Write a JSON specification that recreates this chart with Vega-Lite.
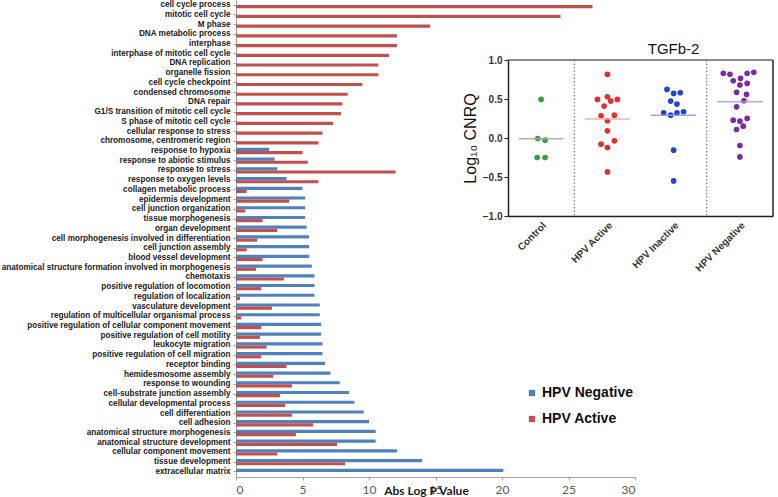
{
  "$schema": "https://vega.github.io/schema/vega-lite/v6.json",
  "width": 399,
  "height": 477,
  "autosize": {"type": "none"},
  "padding": {"left": 236, "top": 0, "right": 143, "bottom": 20},
  "background": "white",
  "config": {"view": {"stroke": null}},
  "layer": [
    {
      "data": {"values": [
        {"term": "cell cycle process", "HPV Negative": 0, "HPV Active": 26.8},
        {"term": "mitotic cell cycle", "HPV Negative": 0, "HPV Active": 24.4},
        {"term": "M phase", "HPV Negative": 0, "HPV Active": 14.6},
        {"term": "DNA metabolic process", "HPV Negative": 0, "HPV Active": 12.1},
        {"term": "interphase", "HPV Negative": 0, "HPV Active": 12.1},
        {"term": "interphase of mitotic cell cycle", "HPV Negative": 0, "HPV Active": 11.5},
        {"term": "DNA replication", "HPV Negative": 0, "HPV Active": 10.7},
        {"term": "organelle fission", "HPV Negative": 0, "HPV Active": 10.7},
        {"term": "cell cycle checkpoint", "HPV Negative": 0, "HPV Active": 9.5},
        {"term": "condensed chromosome", "HPV Negative": 0, "HPV Active": 8.4},
        {"term": "DNA repair", "HPV Negative": 0, "HPV Active": 8.0},
        {"term": "G1/S transition of mitotic cell cycle", "HPV Negative": 0, "HPV Active": 7.9},
        {"term": "S phase of mitotic cell cycle", "HPV Negative": 0, "HPV Active": 7.3},
        {"term": "cellular response to stress", "HPV Negative": 0, "HPV Active": 6.5},
        {"term": "chromosome, centromeric region", "HPV Negative": 0, "HPV Active": 6.2},
        {"term": "response to hypoxia", "HPV Negative": 2.5, "HPV Active": 5.0},
        {"term": "response to abiotic stimulus", "HPV Negative": 2.9, "HPV Active": 5.4},
        {"term": "response to stress", "HPV Negative": 3.1, "HPV Active": 12.0},
        {"term": "response to oxygen levels", "HPV Negative": 3.8, "HPV Active": 6.2},
        {"term": "collagen metabolic process", "HPV Negative": 5.0, "HPV Active": 0.8},
        {"term": "epidermis development", "HPV Negative": 5.2, "HPV Active": 4.0},
        {"term": "cell junction organization", "HPV Negative": 5.2, "HPV Active": 0.7},
        {"term": "tissue morphogenesis", "HPV Negative": 5.2, "HPV Active": 2.0},
        {"term": "organ development", "HPV Negative": 5.3, "HPV Active": 3.1},
        {"term": "cell morphogenesis involved in differentiation", "HPV Negative": 5.5, "HPV Active": 1.6},
        {"term": "cell junction assembly", "HPV Negative": 5.5, "HPV Active": 0.8},
        {"term": "blood vessel development", "HPV Negative": 5.5, "HPV Active": 2.0},
        {"term": "anatomical structure formation involved in morphogenesis", "HPV Negative": 5.7, "HPV Active": 1.5},
        {"term": "chemotaxis", "HPV Negative": 5.9, "HPV Active": 3.6},
        {"term": "positive regulation of locomotion", "HPV Negative": 5.9, "HPV Active": 1.9},
        {"term": "regulation of localization", "HPV Negative": 5.9, "HPV Active": 0.3},
        {"term": "vasculature development", "HPV Negative": 6.3, "HPV Active": 2.7},
        {"term": "regulation of multicellular organismal process", "HPV Negative": 6.3, "HPV Active": 0.4},
        {"term": "positive regulation of cellular component movement", "HPV Negative": 6.4, "HPV Active": 1.9},
        {"term": "positive regulation of cell motility", "HPV Negative": 6.4, "HPV Active": 1.8},
        {"term": "leukocyte migration", "HPV Negative": 6.5, "HPV Active": 2.3},
        {"term": "positive regulation of cell migration", "HPV Negative": 6.5, "HPV Active": 1.9},
        {"term": "receptor binding", "HPV Negative": 6.7, "HPV Active": 3.8},
        {"term": "hemidesmosome assembly", "HPV Negative": 7.1, "HPV Active": 2.8},
        {"term": "response to wounding", "HPV Negative": 7.8, "HPV Active": 4.2},
        {"term": "cell-substrate junction assembly", "HPV Negative": 8.5, "HPV Active": 3.3},
        {"term": "cellular developmental process", "HPV Negative": 8.9, "HPV Active": 3.7},
        {"term": "cell differentiation", "HPV Negative": 9.6, "HPV Active": 4.2},
        {"term": "cell adhesion", "HPV Negative": 10.0, "HPV Active": 5.8},
        {"term": "anatomical structure morphogenesis", "HPV Negative": 10.5, "HPV Active": 4.5},
        {"term": "anatomical structure development", "HPV Negative": 10.5, "HPV Active": 7.6},
        {"term": "cellular component movement", "HPV Negative": 12.1, "HPV Active": 3.1},
        {"term": "tissue development", "HPV Negative": 14.0, "HPV Active": 8.2},
        {"term": "extracellular matrix", "HPV Negative": 20.1, "HPV Active": 0}
      ]},
      "transform": [{"fold": ["HPV Negative", "HPV Active"], "as": ["series", "value"]}],
      "mark": {"type": "bar"},
      "encoding": {
        "y": {
          "field": "term", "type": "nominal", "sort": null,
          "scale": {"paddingInner": 0.35, "paddingOuter": 0.2},
          "axis": {"title": null, "labelFont": "Liberation Sans", "labelFontWeight": "bold", "labelFontSize": 8.2, "labelColor": "#1a1a1a", "domainColor": "#a0a0a0", "tickColor": "#a0a0a0", "tickSize": 3, "labelPadding": 3, "labelLimit": 300}
        },
        "yOffset": {"field": "series", "type": "nominal", "sort": ["HPV Negative", "HPV Active"]},
        "x": {
          "field": "value", "type": "quantitative",
          "scale": {"domain": [0, 30]},
          "axis": {"values": [0, 5, 10, 15, 20, 25, 30], "grid": false, "title": "Abs Log P Value", "titleFont": "Lato", "titleFontSize": 12, "titleFontWeight": "bold", "titleColor": "#1a1a1a", "titleX": 190, "titleY": 8, "titleAlign": "center", "titleBaseline": "top", "labelFont": "Lato", "labelFontSize": 12, "labelColor": "#595959", "domainColor": "#a0a0a0", "tickColor": "#a0a0a0", "tickSize": 3, "labelPadding": 4}
        },
        "color": {
          "field": "series", "type": "nominal",
          "scale": {"domain": ["HPV Negative", "HPV Active"], "range": ["#4f81bd", "#c0504d"]},
          "legend": {"title": null, "orient": "none", "legendX": 289, "legendY": 386, "symbolType": "square", "symbolSize": 40, "symbolStrokeWidth": 0, "labelFont": "Liberation Sans", "labelFontWeight": "bold", "labelFontSize": 14, "labelColor": "#111111", "rowPadding": 12, "labelOffset": 3, "padding": 0}
        }
      }
    },
    {
      "data": {"values": [
        {"group": "Control", "v": 0.495, "dx": 0},
        {"group": "Control", "v": -0.006, "dx": -0.1},
        {"group": "Control", "v": -0.028, "dx": 0.12},
        {"group": "Control", "v": -0.25, "dx": -0.12},
        {"group": "Control", "v": -0.25, "dx": 0.12},
        {"group": "HPV Active", "v": 0.816, "dx": 0},
        {"group": "HPV Active", "v": 0.495, "dx": -0.3},
        {"group": "HPV Active", "v": 0.529, "dx": 0},
        {"group": "HPV Active", "v": 0.473, "dx": 0.1},
        {"group": "HPV Active", "v": 0.495, "dx": 0.3},
        {"group": "HPV Active", "v": 0.409, "dx": -0.1},
        {"group": "HPV Active", "v": 0.285, "dx": -0.19},
        {"group": "HPV Active", "v": 0.293, "dx": 0.21},
        {"group": "HPV Active", "v": 0.221, "dx": 0},
        {"group": "HPV Active", "v": 0.092, "dx": 0},
        {"group": "HPV Active", "v": -0.036, "dx": 0.21},
        {"group": "HPV Active", "v": -0.079, "dx": -0.19},
        {"group": "HPV Active", "v": -0.122, "dx": 0},
        {"group": "HPV Active", "v": -0.435, "dx": 0},
        {"group": "HPV Inactive", "v": 0.623, "dx": -0.2},
        {"group": "HPV Inactive", "v": 0.572, "dx": 0},
        {"group": "HPV Inactive", "v": 0.58, "dx": 0.2},
        {"group": "HPV Inactive", "v": 0.473, "dx": -0.09},
        {"group": "HPV Inactive", "v": 0.435, "dx": 0.1},
        {"group": "HPV Inactive", "v": 0.323, "dx": -0.3},
        {"group": "HPV Inactive", "v": 0.293, "dx": -0.09},
        {"group": "HPV Inactive", "v": 0.323, "dx": 0.1},
        {"group": "HPV Inactive", "v": 0.336, "dx": 0.3},
        {"group": "HPV Inactive", "v": -0.156, "dx": 0},
        {"group": "HPV Inactive", "v": -0.55, "dx": 0},
        {"group": "HPV Negative", "v": 0.829, "dx": -0.5},
        {"group": "HPV Negative", "v": 0.816, "dx": -0.3},
        {"group": "HPV Negative", "v": 0.829, "dx": 0.22},
        {"group": "HPV Negative", "v": 0.842, "dx": 0.42},
        {"group": "HPV Negative", "v": 0.734, "dx": -0.2},
        {"group": "HPV Negative", "v": 0.764, "dx": 0.02},
        {"group": "HPV Negative", "v": 0.7, "dx": 0.22},
        {"group": "HPV Negative", "v": 0.679, "dx": 0},
        {"group": "HPV Negative", "v": 0.585, "dx": -0.1},
        {"group": "HPV Negative", "v": 0.559, "dx": 0.2},
        {"group": "HPV Negative", "v": 0.478, "dx": 0.12},
        {"group": "HPV Negative", "v": 0.4, "dx": -0.1},
        {"group": "HPV Negative", "v": 0.229, "dx": -0.2},
        {"group": "HPV Negative", "v": 0.216, "dx": 0},
        {"group": "HPV Negative", "v": 0.251, "dx": 0.22},
        {"group": "HPV Negative", "v": 0.152, "dx": 0.1},
        {"group": "HPV Negative", "v": 0.109, "dx": -0.1},
        {"group": "HPV Negative", "v": -0.096, "dx": 0},
        {"group": "HPV Negative", "v": -0.242, "dx": 0}
      ]},
      "mark": {"type": "circle", "size": 32, "opacity": 1},
      "encoding": {
        "x": {
          "field": "group", "type": "nominal",
          "scale": {"domain": ["Control", "HPV Active", "HPV Inactive", "HPV Negative"], "range": [272, 537], "paddingInner": 0, "paddingOuter": 0},
          "axis": {"orient": "bottom", "offset": -261, "title": null, "labelAngle": -45, "labelFont": "Liberation Sans", "labelFontWeight": "bold", "labelFontSize": 10, "labelColor": "#333333", "domainColor": "#222222", "domainWidth": 1.5, "ticks": false, "labelPadding": 4}
        },
        "xOffset": {"field": "dx", "type": "quantitative", "scale": {"domain": [-1, 1]}},
        "y": {
          "field": "v", "type": "quantitative",
          "scale": {"domain": [-1, 1], "range": [216, 60], "nice": false},
          "axis": {"orient": "left", "offset": -272, "values": [-1, -0.5, 0, 0.5, 1], "format": ".1f", "grid": false, "title": "Log₁₀ CNRQ", "titleFont": "Liberation Sans", "titleFontSize": 16, "titleFontWeight": "normal", "titleColor": "#111111", "titlePadding": 4, "labelFont": "Liberation Sans", "labelFontWeight": "bold", "labelFontSize": 10, "labelColor": "#333333", "domainColor": "#222222", "domainWidth": 1.5, "tickColor": "#222222", "tickSize": 4}
        },
        "color": {
          "field": "group", "type": "nominal",
          "scale": {"domain": ["Control", "HPV Active", "HPV Inactive", "HPV Negative"], "range": ["#35a040", "#ec2a2a", "#2040e0", "#7a2aa6"]},
          "legend": null
        }
      }
    },
    {
      "data": {"values": [
        {"group": "Control", "median": -0.01},
        {"group": "HPV Active", "median": 0.242},
        {"group": "HPV Inactive", "median": 0.293},
        {"group": "HPV Negative", "median": 0.465}
      ]},
      "mark": {"type": "tick", "size": 45, "thickness": 1.5, "opacity": 0.9},
      "encoding": {
        "x": {"field": "group", "type": "nominal", "axis": null,
          "scale": {"domain": ["Control", "HPV Active", "HPV Inactive", "HPV Negative"], "range": [272, 537], "paddingInner": 0, "paddingOuter": 0}},
        "y": {"field": "median", "type": "quantitative", "axis": null,
          "scale": {"domain": [-1, 1], "range": [216, 60], "nice": false}},
        "color": {"field": "group", "type": "nominal", "legend": null,
          "scale": {"domain": ["Control", "HPV Active", "HPV Inactive", "HPV Negative"], "range": ["#a0a8a0", "#f0a8a0", "#8c9ce4", "#b69ad4"]}}
      }
    },
    {
      "data": {"values": [
        {"group": "Control"}, {"group": "HPV Active"}, {"group": "HPV Inactive"}, {"group": "HPV Negative"}
      ]},
      "mark": {"type": "tick", "size": 66.5, "thickness": 1.5, "color": "#222222"},
      "encoding": {
        "x": {"field": "group", "type": "nominal", "axis": null,
          "scale": {"domain": ["Control", "HPV Active", "HPV Inactive", "HPV Negative"], "range": [272, 537], "paddingInner": 0, "paddingOuter": 0}},
        "y": {"datum": 1, "type": "quantitative", "axis": null,
          "scale": {"domain": [-1, 1], "range": [216, 60], "nice": false}}
      }
    },
    {
      "data": {"values": [{"group": "HPV Active"}, {"group": "HPV Negative"}]},
      "mark": {"type": "rule", "strokeDash": [1.5, 2], "color": "#666666", "strokeWidth": 1},
      "encoding": {
        "x": {"field": "group", "type": "nominal", "bandPosition": 0, "axis": null,
          "scale": {"domain": ["Control", "HPV Active", "HPV Inactive", "HPV Negative"], "range": [272, 537], "paddingInner": 0, "paddingOuter": 0}},
        "y": {"datum": 1, "type": "quantitative", "axis": null,
          "scale": {"domain": [-1, 1], "range": [216, 60], "nice": false}},
        "y2": {"datum": -1}
      }
    },
    {
      "data": {"values": [{}]},
      "mark": {"type": "rule", "color": "#222222", "strokeWidth": 1.5},
      "encoding": {
        "x": {"datum": "HPV Negative", "type": "nominal", "bandPosition": 1, "axis": null,
          "scale": {"domain": ["Control", "HPV Active", "HPV Inactive", "HPV Negative"], "range": [272, 537], "paddingInner": 0, "paddingOuter": 0}},
        "y": {"datum": 1, "type": "quantitative", "axis": null,
          "scale": {"domain": [-1, 1], "range": [216, 60], "nice": false}},
        "y2": {"datum": -1}
      }
    },
    {
      "data": {"values": [{}]},
      "mark": {"type": "text", "text": "TGFb-2", "font": "Liberation Sans", "fontSize": 15, "baseline": "bottom", "dy": -3, "color": "#111111"},
      "encoding": {
        "x": {"datum": "HPV Inactive", "type": "nominal", "bandPosition": 0.15, "axis": null,
          "scale": {"domain": ["Control", "HPV Active", "HPV Inactive", "HPV Negative"], "range": [272, 537], "paddingInner": 0, "paddingOuter": 0}},
        "y": {"datum": 1, "type": "quantitative", "axis": null,
          "scale": {"domain": [-1, 1], "range": [216, 60], "nice": false}}
      }
    }
  ],
  "resolve": {
    "scale": {"x": "independent", "y": "independent", "color": "independent"},
    "axis": {"x": "independent", "y": "independent"},
    "legend": {"color": "independent"}
  }
}
